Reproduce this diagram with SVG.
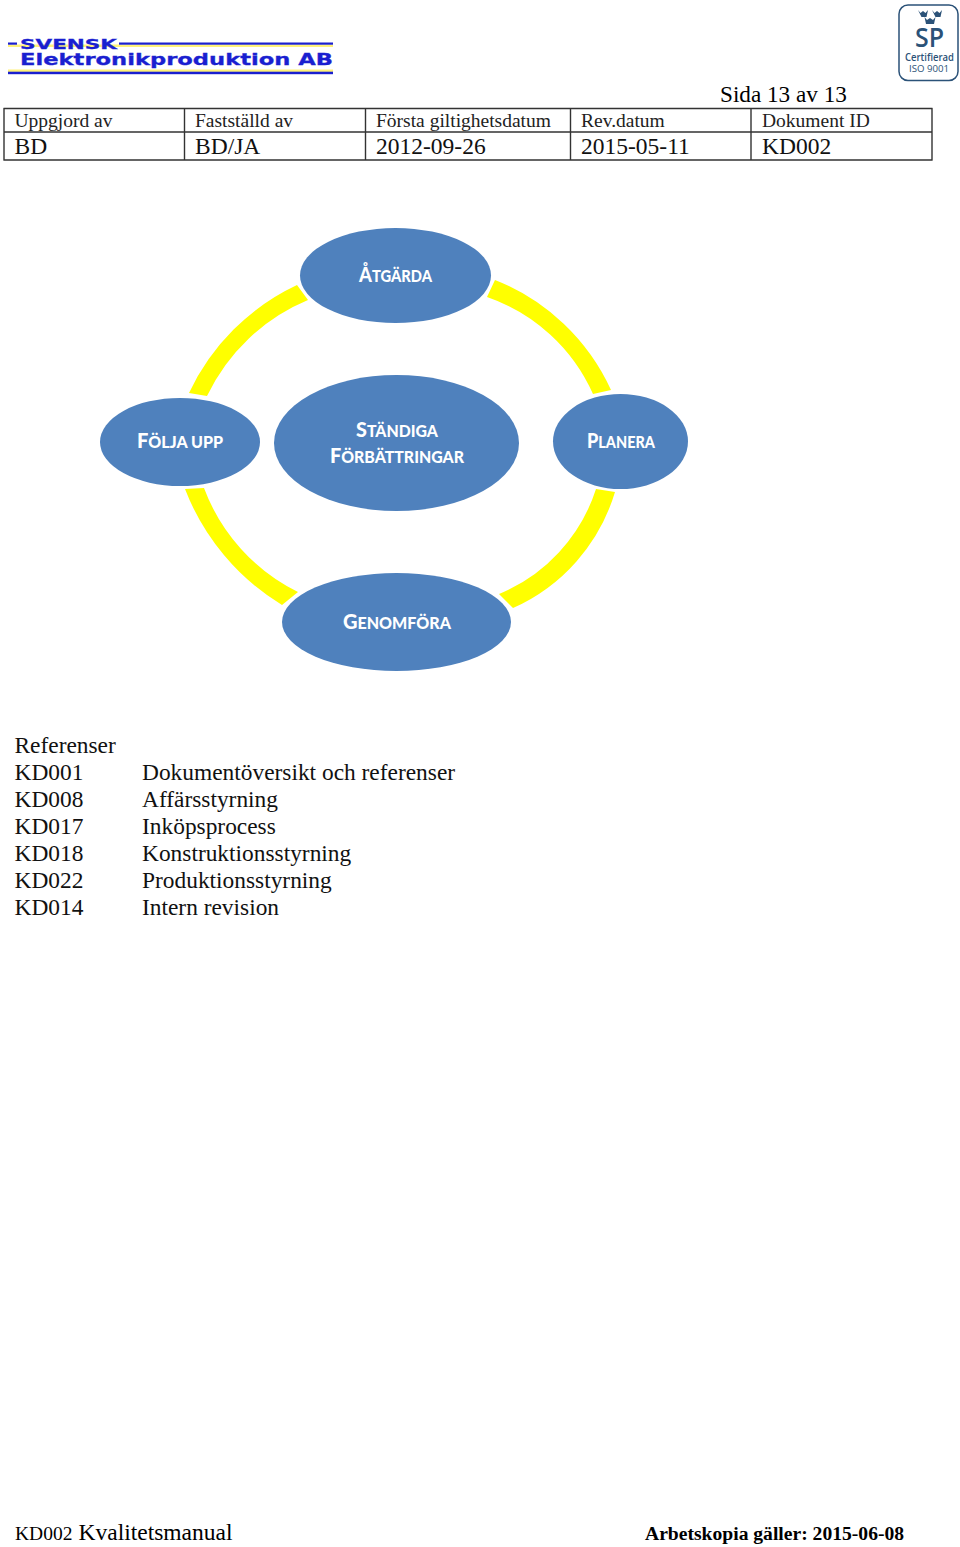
<svg xmlns="http://www.w3.org/2000/svg" width="960" height="1547" viewBox="0 0 960 1547">
<style>
text{font-family:"Liberation Serif","Times New Roman",serif;fill:#000}
.h{font-size:19.5px;fill:#222}
.v{font-size:23.5px;fill:#111}
.r{font-size:23.4px;fill:#111}
.n{fill:#4f81bd}
.c{font-family:Lato,"Open Sans",sans-serif;font-weight:900;font-size:20px;fill:#fff;text-anchor:middle}
.s{font-size:16px}
.a{fill:#ffff00}
.l{stroke:#333;stroke-width:1.4;fill:none}
.b{fill:#1a1fd0}
.y{fill:#fff27a}
.logo{font-family:"DejaVu Sans",sans-serif;font-weight:700;fill:#1a1fd0;stroke:#1a1fd0;stroke-width:.3}
.sp{font-family:"Open Sans",sans-serif;fill:#2b5278;text-anchor:middle}
</style>
<rect width="960" height="1547" fill="#fff"/>
<g id="logo-svensk">
<rect class="y" x="8" y="44.500" width="325" height="2.500"/>
<rect class="y" x="8" y="69.500" width="325" height="2.500"/>
<rect class="b" x="8" y="42.500" width="9" height="2.200"/>
<rect class="b" x="119" y="42.500" width="214" height="2.200"/>
<rect class="b" x="8" y="71.700" width="325" height="2.500"/>
<text class="logo" x="20" y="49" font-size="13.500" textLength="97" lengthAdjust="spacingAndGlyphs">SVENSK</text>
<text class="logo" x="20" y="64.500" font-size="16" textLength="313" lengthAdjust="spacingAndGlyphs">Elektronikproduktion AB</text>
</g>
<g id="logo-sp">
<rect x="899" y="5" width="59" height="75.500" rx="9" fill="#fff" stroke="#2b5278" stroke-width="1.500"/>
<path fill="#2b5278" d="M918,10l2.500,3 2.500,-2 2.500,2 2.500,-3 -1.500,7h-5zM932,10l2.500,3 2.500,-2 2.500,2 2.500,-3 -1.500,7h-5zM924.500,17l2.500,3 3,-2 3,2 2.500,-3 -1.500,7h-8z"/>
<text class="sp" x="929.500" y="47" font-size="27" font-weight="600" textLength="29" lengthAdjust="spacingAndGlyphs">SP</text>
<text class="sp" x="929.500" y="60.500" font-size="10" font-weight="600" textLength="49" lengthAdjust="spacingAndGlyphs">Certifierad</text>
<text class="sp" x="929" y="72" font-size="9.500" textLength="40" lengthAdjust="spacingAndGlyphs">ISO 9001</text>
</g>
<g id="header">
<text x="720" y="102" font-size="23.200">Sida 13 av 13</text>
<g id="table-lines">
<path class="l" d="M3.500,108.500H932.500M3.500,132H932.500M3.500,160H932.500M4,108V160.500M184.500,108V160.500M365.500,108V160.500M570.500,108V160.500M751,108V160.500M932,108V160.500"/>
</g>
<text class="h" x="14.500" y="127">Uppgjord av</text>
<text class="h" x="195" y="127">Fastställd av</text>
<text class="h" x="376" y="127">Första giltighetsdatum</text>
<text class="h" x="581" y="127">Rev.datum</text>
<text class="h" x="762" y="127">Dokument ID</text>
<text class="v" x="14.500" y="154">BD</text>
<text class="v" x="195" y="154">BD/JA</text>
<text class="v" x="376" y="154">2012-09-26</text>
<text class="v" x="581" y="154">2015-05-11</text>
<text class="v" x="762" y="154">KD002</text>
</g>
<g id="connectors">
<path class="a" d="M189,393A225,225 0 0 1 297,285L308,300A195,195 0 0 0 207,396Z"/>
<path class="a" d="M495,280A214,214 0 0 1 611,390L593,394A180,180 0 0 0 487,297Z"/>
<path class="a" d="M185,489A235,235 0 0 0 282,605L298,592A190,190 0 0 1 204,488Z"/>
<path class="a" d="M615,492A185,185 0 0 1 513,608L499,594A170,170 0 0 0 596,489Z"/>
</g>
<g id="atgarda">
<ellipse class="n" cx="395.500" cy="275.500" rx="95.500" ry="47.500"/>
<text class="c" x="395.500" y="282" textLength="73" lengthAdjust="spacingAndGlyphs">Å<tspan class="s">TGÄRDA</tspan></text>
</g>
<g id="folja-upp">
<ellipse class="n" cx="180" cy="442" rx="80" ry="44"/>
<text class="c" x="180" y="448" textLength="86" lengthAdjust="spacingAndGlyphs">F<tspan class="s">ÖLJA UPP</tspan></text>
</g>
<g id="standiga">
<ellipse class="n" cx="396.500" cy="443" rx="122.500" ry="68"/>
<text class="c" x="397" y="437" textLength="82" lengthAdjust="spacingAndGlyphs">S<tspan class="s">TÄNDIGA</tspan></text>
<text class="c" x="397" y="463" textLength="134" lengthAdjust="spacingAndGlyphs">F<tspan class="s">ÖRBÄTTRINGAR</tspan></text>
</g>
<g id="planera">
<ellipse class="n" cx="620.500" cy="441.500" rx="67.500" ry="47.500"/>
<text class="c" x="621" y="448" textLength="68" lengthAdjust="spacingAndGlyphs">P<tspan class="s">LANERA</tspan></text>
</g>
<g id="genomfora">
<ellipse class="n" cx="396.500" cy="622" rx="114.500" ry="49"/>
<text class="c" x="397" y="628.500" textLength="108" lengthAdjust="spacingAndGlyphs">G<tspan class="s">ENOMFÖRA</tspan></text>
</g>
<g id="references">
<text class="r" x="14.500" y="753">Referenser</text>
<text class="r" x="14.500" y="780">KD001</text><text class="r" x="142" y="780">Dokumentöversikt och referenser</text>
<text class="r" x="14.500" y="807">KD008</text><text class="r" x="142" y="807">Affärsstyrning</text>
<text class="r" x="14.500" y="834">KD017</text><text class="r" x="142" y="834">Inköpsprocess</text>
<text class="r" x="14.500" y="861">KD018</text><text class="r" x="142" y="861">Konstruktionsstyrning</text>
<text class="r" x="14.500" y="888">KD022</text><text class="r" x="142" y="888">Produktionsstyrning</text>
<text class="r" x="14.500" y="915">KD014</text><text class="r" x="142" y="915">Intern revision</text>
</g>
<g id="footer">
<text x="15" y="1539.500" font-size="19.500">KD002</text>
<text x="78.500" y="1539.500" font-size="23.500">Kvalitetsmanual</text>
<text x="645" y="1539.500" font-size="19.600" font-weight="700">Arbetskopia gäller: 2015-06-08</text>
</g>
</svg>
